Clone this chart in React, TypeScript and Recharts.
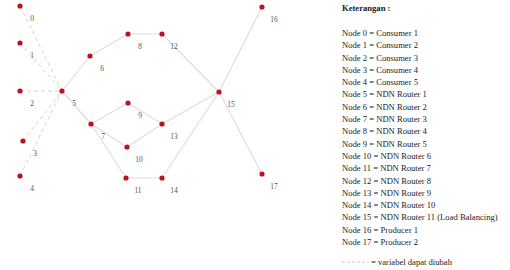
import { ScatterChart, Scatter, XAxis, YAxis } from "recharts";

// node layout (x, y in diagram units, y grows downward)
const nodeIds = [0, 1, 2, 3, 4, 5, 6, 7, 8, 9, 10, 11, 12, 13, 14, 15, 16, 17];
const nodeX = [20, 20, 20, 23, 20, 62, 90, 91, 128, 128, 127, 126, 162, 162, 162, 219, 262, 262];
const nodeY = [6, 43, 91, 141, 176, 91, 56, 124, 34, 103, 147, 178, 34, 124, 178, 92, 7, 174];

// links between nodes
const dashedEdges = [
  [0, 5],
  [1, 5],
  [2, 5],
  [3, 5],
  [4, 5],
];
const solidEdges = [
  [5, 6],
  [5, 7],
  [6, 8],
  [8, 12],
  [12, 15],
  [7, 9],
  [7, 10],
  [7, 11],
  [9, 13],
  [10, 13],
  [11, 14],
  [13, 15],
  [14, 15],
  [15, 16],
  [15, 17],
];

const legendTitle = "Keterangan :";
const legendLines = [
  "Node 0 = Consumer 1",
  "Node 1 = Consumer 2",
  "Node 2 = Consumer 3",
  "Node 3 = Consumer 4",
  "Node 4 = Consumer 5",
  "Node 5 = NDN Router 1",
  "Node 6 = NDN Router 2",
  "Node 7 = NDN Router 3",
  "Node 8 = NDN Router 4",
  "Node 9 = NDN Router 5",
  "Node 10 = NDN Router 6",
  "Node 11 = NDN Router 7",
  "Node 12 = NDN Router 8",
  "Node 13 = NDN Router 9",
  "Node 14 = NDN Router 10",
  "Node 15 = NDN Router 11 (Load Balancing)",
  "Node 16 = Producer 1",
  "Node 17 = Producer 2",
];
const dashedNote = "= variabel dapat diubah";

const nodes = nodeIds.map((id, i) => ({ id, x: nodeX[i], y: nodeY[i] }));

const serif = '"Liberation Serif", "Times New Roman", serif';

function NodeShape(props: any) {
  const { cx, cy, payload } = props;
  return (
    <g>
      <circle cx={cx} cy={cy} r={2.6} fill="#b8141f" />
      <text
        x={cx + 12}
        y={cy + 12}
        textAnchor="middle"
        dominantBaseline="central"
        fontSize={7.5}
        fontFamily={serif}
        fill="#555"
      >
        {payload.id}
      </text>
    </g>
  );
}

const noDot = () => <g />;

export default function App() {
  return (
    <div style={{ position: "absolute", left: 0, top: 0, width: 510, height: 270, background: "#fff" }}>
      <ScatterChart width={510} height={270} margin={{ top: 0, right: 0, bottom: 0, left: 0 }}>
        <XAxis type="number" dataKey="x" domain={[0, 510]} hide />
        <YAxis type="number" dataKey="y" domain={[0, 270]} reversed hide />
        {dashedEdges.map(([a, b], i) => (
          <Scatter
            key={`d-${i}`}
            data={[nodes[a], nodes[b]]}
            line={{ stroke: "#d4d4d4", strokeWidth: 1, strokeDasharray: "4 3" }}
            shape={noDot}
            isAnimationActive={false}
          />
        ))}
        {solidEdges.map(([a, b], i) => (
          <Scatter
            key={`s-${i}`}
            data={[nodes[a], nodes[b]]}
            line={{ stroke: "#dedede", strokeWidth: 1.2 }}
            shape={noDot}
            isAnimationActive={false}
          />
        ))}
        <Scatter data={nodes} shape={NodeShape} isAnimationActive={false} />
      </ScatterChart>

      <div
        style={{
          position: "absolute",
          left: 342,
          top: 2,
          fontFamily: serif,
          fontSize: 8.6,
          color: "#222",
          whiteSpace: "nowrap",
        }}
      >
        <div style={{ fontWeight: "bold", height: 12, lineHeight: "12px" }}>{legendTitle}</div>
        <div style={{ marginTop: 13 }}>
          {legendLines.map((t) => (
            <div key={t} style={{ height: 12.3, lineHeight: "12.3px" }}>
              {t}
            </div>
          ))}
        </div>
        <div style={{ marginTop: 8, display: "flex", alignItems: "center", height: 12, lineHeight: "12px" }}>
          <svg width={27} height={4} style={{ marginRight: 2 }}>
            <line x1={0} y1={2} x2={27} y2={2} stroke="#c8c8c8" strokeWidth={1} strokeDasharray="3 2" />
          </svg>
          <span>{dashedNote}</span>
        </div>
      </div>
    </div>
  );
}
